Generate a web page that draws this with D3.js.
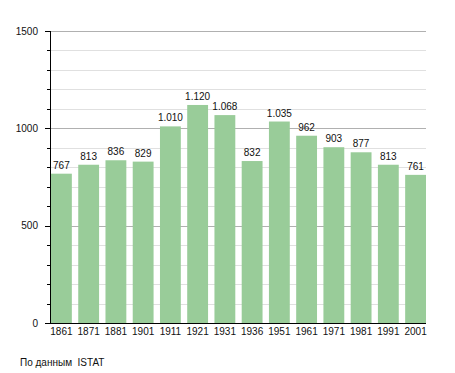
<!DOCTYPE html>
<html lang="en">
<head>
    <meta charset="UTF-8">
    <script src="https://cdn.jsdelivr.net/npm/d3@7"></script>
    <title>Population</title>
    <style>
        body { margin: 0; background: white; }
        svg text { font-family: "Liberation Sans", Arial, sans-serif; font-size: 10px; fill: #111; }
    </style>
</head>
<body>
    <div id="chart"></div>
    <script>
        const years = ["1861", "1871", "1881", "1901", "1911", "1921", "1931", "1936", "1951", "1961", "1971", "1981", "1991", "2001"];
        const population = [767, 813, 836, 829, 1010, 1120, 1068, 832, 1035, 962, 903, 877, 813, 761];
        const majorTicks = [0, 500, 1000, 1500];
        const source = "По данным  ISTAT";

        const width = 455, height = 373;
        const margin = { top: 31, right: 29, bottom: 50, left: 50 };

        const svg = d3.select("#chart").append("svg")
            .attr("width", width)
            .attr("height", height);

        const x = d3.scaleBand()
            .domain(years)
            .range([margin.left + 1, width - margin.right])
            .paddingInner(0.235)
            .paddingOuter(0);

        const y = d3.scaleLinear()
            .domain([0, 1500])
            .range([height - margin.bottom, margin.top]);

        const minorTicks = d3.range(0, 1501, 100);
        const fmt = d => d >= 1000 ? d3.format(",")(d).replace(",", ".") : String(d);

        // grid
        svg.append("g").selectAll("line")
            .data(minorTicks.filter(d => d > 0))
            .join("line")
            .attr("x1", margin.left)
            .attr("x2", width - margin.right)
            .attr("y1", d => Math.round(y(d)) + 0.5)
            .attr("y2", d => Math.round(y(d)) + 0.5)
            .attr("stroke", d => d % 500 === 0 ? "#b0b0b0" : "#e0e0e0")
            .attr("stroke-width", 1);

        // bars
        svg.append("g").selectAll("rect")
            .data(population)
            .join("rect")
            .attr("x", (d, i) => x(years[i]))
            .attr("width", x.bandwidth())
            .attr("y", d => y(d))
            .attr("height", d => y(0) - y(d))
            .attr("fill", "#99cc99");

        // value labels
        svg.append("g").selectAll("text")
            .data(population)
            .join("text")
            .attr("x", (d, i) => x(years[i]) + x.bandwidth() / 2)
            .attr("y", d => y(d) - 5)
            .attr("text-anchor", "middle")
            .text(d => fmt(d));

        // y axis
        const yAxis = svg.append("g");
        yAxis.append("line")
            .attr("x1", margin.left + 0.5).attr("x2", margin.left + 0.5)
            .attr("y1", y(1500)).attr("y2", y(0))
            .attr("stroke", "#000");
        yAxis.selectAll("line.tick")
            .data(minorTicks)
            .join("line")
            .attr("class", "tick")
            .attr("x1", d => d % 500 === 0 ? margin.left - 5 : margin.left - 3)
            .attr("x2", margin.left)
            .attr("y1", d => Math.round(y(d)) + 0.5)
            .attr("y2", d => Math.round(y(d)) + 0.5)
            .attr("stroke", "#000");
        yAxis.selectAll("text")
            .data(majorTicks)
            .join("text")
            .attr("x", margin.left - 12)
            .attr("y", d => y(d))
            .attr("dy", "0.35em")
            .attr("text-anchor", "end")
            .text(d => d);

        // x axis
        svg.append("line")
            .attr("x1", margin.left).attr("x2", width - margin.right)
            .attr("y1", y(0) + 0.5).attr("y2", y(0) + 0.5)
            .attr("stroke", "#000");
        svg.append("g").selectAll("text")
            .data(years)
            .join("text")
            .attr("x", d => x(d) + x.bandwidth() / 2)
            .attr("y", y(0) + 12)
            .attr("text-anchor", "middle")
            .text(d => d);

        svg.append("text")
            .attr("x", 20)
            .attr("y", 366)
            .style("white-space", "pre")
            .text(source);
    </script>
</body>
</html>
